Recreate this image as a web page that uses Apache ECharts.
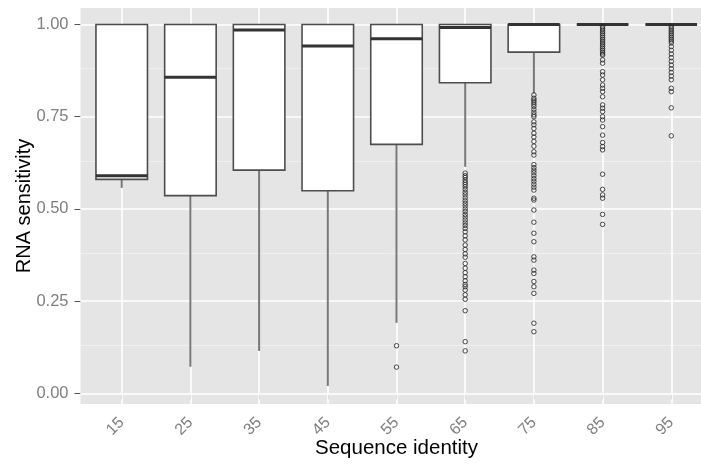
<!DOCTYPE html>
<html>
<head>
<meta charset="utf-8">
<script src="https://cdn.jsdelivr.net/npm/echarts@6/dist/echarts.min.js"></script>
<style>
  html, body { margin: 0; padding: 0; background: #ffffff; }
  #chart { width: 701px; height: 465px; }
</style>
</head>
<body>
<div id="chart"></div>
<script>
// Sequence identity bins (x categories)
const identityLabels = ['15', '25', '35', '45', '55', '65', '75', '85', '95'];

// Box statistics per bin
const lowerWhisker = [0.557, 0.072, 0.115, 0.020, 0.191, 0.614, 0.813, 1.000, 1.000];
const lowerHinge   = [0.580, 0.536, 0.605, 0.549, 0.675, 0.842, 0.925, 1.000, 1.000];
const medians      = [0.590, 0.857, 0.985, 0.942, 0.961, 0.992, 1.000, 1.000, 1.000];
const upperHinge   = [1.000, 1.000, 1.000, 1.000, 1.000, 1.000, 1.000, 1.000, 1.000];
const upperWhisker = [1.000, 1.000, 1.000, 1.000, 1.000, 1.000, 1.000, 1.000, 1.000];

// Outlying points per bin
const outliers15 = [];
const outliers25 = [];
const outliers35 = [];
const outliers45 = [];
const outliers55 = [0.129, 0.071];
const outliers65 = [0.597, 0.590, 0.585, 0.578, 0.572, 0.566, 0.560, 0.553, 0.545, 0.538,
                    0.530, 0.522, 0.515, 0.508, 0.500, 0.493, 0.485, 0.478, 0.470, 0.462,
                    0.455, 0.447, 0.438, 0.427, 0.416, 0.402, 0.390, 0.378, 0.369, 0.352,
                    0.339, 0.327, 0.316, 0.305, 0.295, 0.289, 0.280, 0.267, 0.255, 0.224,
                    0.140, 0.115];
const outliers75 = [0.809, 0.800, 0.795, 0.790, 0.784, 0.778, 0.770, 0.762, 0.755, 0.750,
                    0.736, 0.728, 0.718, 0.705, 0.695, 0.683, 0.670, 0.655, 0.646, 0.620,
                    0.612, 0.605, 0.598, 0.590, 0.582, 0.575, 0.567, 0.559, 0.551, 0.529,
                    0.524, 0.497, 0.464, 0.434, 0.411, 0.370, 0.361, 0.334, 0.325, 0.303,
                    0.289, 0.271, 0.190, 0.167];
const outliers85 = [0.995, 0.990, 0.985, 0.980, 0.975, 0.970, 0.965, 0.960, 0.955, 0.950,
                    0.945, 0.940, 0.935, 0.930, 0.925, 0.920, 0.917, 0.904, 0.895, 0.872,
                    0.863, 0.850, 0.836, 0.827, 0.818, 0.804, 0.782, 0.773, 0.764, 0.750,
                    0.741, 0.723, 0.700, 0.680, 0.669, 0.660, 0.594, 0.553, 0.538, 0.529,
                    0.485, 0.458];
const outliers95 = [0.995, 0.990, 0.985, 0.980, 0.975, 0.970, 0.965, 0.960, 0.955, 0.950,
                    0.940, 0.930, 0.920, 0.910, 0.900, 0.890, 0.880, 0.870, 0.860, 0.850,
                    0.827, 0.818, 0.774, 0.698];

const outlierGroups = [outliers15, outliers25, outliers35, outliers45, outliers55,
                       outliers65, outliers75, outliers85, outliers95];

// Axis ticks
const yTicks = [0, 0.25, 0.5, 0.75, 1];
const yMinorTicks = [0.125, 0.375, 0.625, 0.875];
const yTickLabels = ['0.00', '0.25', '0.50', '0.75', '1.00'];

// Derived series data
const xPositions = identityLabels.map((_, i) => i + 1);
const boxRows = identityLabels.map((_, i) => [
  i + 1, lowerWhisker[i], lowerHinge[i], medians[i], upperHinge[i], upperWhisker[i]
]);
const outlierPoints = [];
outlierGroups.forEach((group, i) => group.forEach(v => outlierPoints.push([i + 1, v])));

const FONT = '"Liberation Sans", Arial, Helvetica, sans-serif';
const chart = echarts.init(document.getElementById('chart'), null, { renderer: 'canvas' });

const major = { color: '#ffffff', width: 1.6, type: 'solid' };
const minor = { color: '#f2f2f2', width: 0.8, type: 'solid' };
const gridLines = [];
yTicks.forEach(v => gridLines.push({ yAxis: v, lineStyle: major }));
yMinorTicks.forEach(v => gridLines.push({ yAxis: v, lineStyle: minor }));
xPositions.forEach(v => gridLines.push({ xAxis: v, lineStyle: major }));

chart.setOption({
  animation: false,
  backgroundColor: '#ffffff',
  grid: {
    left: 80.5, top: 8, width: 632, height: 396,
    containLabel: false,
    outerBoundsMode: 'none',
    show: true, backgroundColor: '#e5e5e5', borderWidth: 0
  },
  xAxis: {
    type: 'value',
    min: 0.4, max: 9.6,
    name: 'Sequence identity',
    nameLocation: 'middle',
    nameGap: 34,
    nameMoveOverlap: false,
    nameTextStyle: { fontFamily: FONT, fontSize: 20.5, color: '#000000' },
    axisLine: { show: false },
    axisTick: { show: true, length: 6, customValues: xPositions, lineStyle: { color: '#555555', width: 1 } },
    axisLabel: {
      customValues: xPositions,
      rotate: 45,
      margin: 16,
      fontFamily: FONT, fontSize: 16, color: '#7f7f7f',
      formatter: v => identityLabels[Math.round(v) - 1]
    },
    splitLine: { show: false }
  },
  yAxis: {
    type: 'value',
    min: -0.029, max: 1.0447,
    name: 'RNA sensitivity',
    nameLocation: 'middle',
    nameGap: 46,
    nameMoveOverlap: false,
    nameTextStyle: { fontFamily: FONT, fontSize: 20, color: '#000000' },
    axisLine: { show: false },
    axisTick: { show: true, length: 6, customValues: yTicks, lineStyle: { color: '#555555', width: 1 } },
    axisLabel: {
      customValues: yTicks,
      margin: 12,
      fontFamily: FONT, fontSize: 16.5, color: '#7f7f7f',
      formatter: v => yTickLabels[yTicks.indexOf(Math.round(v * 100) / 100)]
    },
    splitLine: { show: false }
  },
  series: [
    {
      // panel grid lines
      type: 'scatter',
      data: [],
      z: 1,
      silent: true,
      markLine: {
        silent: true,
        z: 1,
        symbol: ['none', 'none'],
        label: { show: false },
        emphasis: { disabled: true },
        data: gridLines
      }
    },
    {
      type: 'custom',
      z: 3,
      silent: true,
      data: boxRows,
      encode: { x: 0, y: [1, 2, 3, 4, 5] },
      renderItem: function (params, api) {
        const x = api.value(0);
        const lo = api.coord([x, api.value(1)]);
        const q1 = api.coord([x, api.value(2)]);
        const md = api.coord([x, api.value(3)]);
        const q3 = api.coord([x, api.value(4)]);
        const hi = api.coord([x, api.value(5)]);
        const half = api.size([0.75, 0])[0] / 2;
        const cx = lo[0];
        const whisker = { stroke: '#777777', lineWidth: 2 };
        return {
          type: 'group',
          children: [
            { type: 'line', shape: { x1: cx, y1: hi[1], x2: cx, y2: q3[1] }, style: whisker },
            { type: 'line', shape: { x1: cx, y1: q1[1], x2: cx, y2: lo[1] }, style: whisker },
            { type: 'rect', shape: { x: cx - half, y: q3[1], width: half * 2, height: q1[1] - q3[1] },
              style: { fill: '#ffffff', stroke: '#4d4d4d', lineWidth: 1.6 } },
            { type: 'line', shape: { x1: cx - half, y1: md[1], x2: cx + half, y2: md[1] },
              style: { stroke: '#333333', lineWidth: 3 } }
          ]
        };
      }
    },
    {
      type: 'scatter',
      z: 4,
      silent: true,
      data: outlierPoints,
      symbol: 'circle',
      symbolSize: 4.5,
      itemStyle: { color: 'rgba(0,0,0,0)', borderColor: '#222222', borderWidth: 1 }
    }
  ]
});
</script>
</body>
</html>
